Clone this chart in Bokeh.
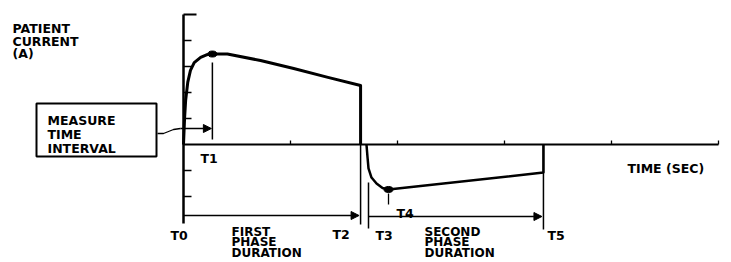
from bokeh.plotting import figure
from bokeh.models import Arrow, NormalHead, Range1d
from bokeh.core.properties import value
from bokeh.embed import file_html
from bokeh.resources import INLINE

# ---------------- data (time in tick units, current in tick units) ----------------
phase1_t = [0, 0.01, 0.02, 0.04, 0.065, 0.10, 0.16, 0.215, 0.27, 0.41, 0.72, 1.03, 1.35, 1.655, 1.655]
phase1_i = [0, 1.0, 1.7, 2.4, 2.85, 3.15, 3.35, 3.45, 3.48, 3.48, 3.23, 2.92, 2.58, 2.27, 0]
phase2_t = [1.71, 1.72, 1.729, 1.757, 1.804, 1.86, 1.916, 3.364, 3.364]
phase2_i = [0, -0.5, -0.92, -1.27, -1.5, -1.67, -1.73, -1.08, 0]
event_names = ["T0", "T1", "T2", "T3", "T4", "T5"]
event_t = [0, 0.27, 1.655, 1.729, 1.916, 3.364]
x_ticks = [1, 2, 3, 4, 5]
y_ticks = [4, 3, 2, 1, -1, -2]
y_top = 5
y_label = ["PATIENT", "CURRENT", "(A)"]
x_label = "TIME (SEC)"
box_label = ["MEASURE", "TIME", "INTERVAL"]
first_label = ["FIRST", "PHASE", "DURATION"]
second_label = ["SECOND", "PHASE", "DURATION"]

# ---------------- layout ----------------
W, H = 731, 262
X0, Y0, SX, SY = 183, 144, 107.0, 26.0   # canvas px of origin, px per unit


def px(xi):   # window x -> data x
    return (xi - X0) / SX


def py(yi):   # window y -> data y
    return (Y0 - yi) / SY


p = figure(width=W, height=H, x_range=Range1d(-X0 / SX, (W - X0) / SX),
           y_range=Range1d(-(H - Y0) / SY, Y0 / SY),
           toolbar_location=None, output_backend="svg", min_border=0,
           x_axis_location=None, y_axis_location=None)
p.grid.visible = False
p.outline_line_color = None
p.background_fill_color = "white"

K = "black"
FONT = value("DejaVu Sans")

# axes
p.line([0, 0], [y_top, py(223)], line_color=K, line_width=2.5)
p.line([0, x_ticks[-1]], [0, 0], line_color=K, line_width=2)
p.segment(x0=[0] * len(y_ticks), y0=y_ticks, x1=[8 / SX] * len(y_ticks), y1=y_ticks,
          line_color=K, line_width=1.3)
p.segment(x0=[0], y0=[y_top], x1=[13 / SX], y1=[y_top], line_color=K, line_width=2)
p.segment(x0=x_ticks, y0=[0] * len(x_ticks), x1=x_ticks, y1=[4 / SY] * len(x_ticks),
          line_color=K, line_width=1.3)

# waveform
p.line(phase1_t, phase1_i, line_color=K, line_width=3, line_join="round")
p.line(phase2_t, phase2_i, line_color=K, line_width=2.5, line_join="round")
p.ellipse(x=[event_t[1]], y=[3.48], width=9, height=6, width_units="screen",
          height_units="screen", fill_color=K, line_color=K)
p.ellipse(x=[event_t[4]], y=[-1.73], width=9, height=6, width_units="screen",
          height_units="screen", fill_color=K, line_color=K)

# event marker lines
p.segment(x0=[event_t[1]], y0=[py(62)], x1=[event_t[1]], y1=[py(139)], line_color=K, line_width=1.5)
p.segment(x0=[event_t[2]], y0=[0], x1=[event_t[2]], y1=[py(224)], line_color=K, line_width=1.5)
p.segment(x0=[event_t[3]], y0=[py(182)], x1=[event_t[3]], y1=[py(228)], line_color=K, line_width=1.5)
p.segment(x0=[event_t[4]], y0=[py(193)], x1=[event_t[4]], y1=[py(204)], line_color=K, line_width=1.3)
p.segment(x0=[event_t[5]], y0=[0], x1=[event_t[5]], y1=[py(229)], line_color=K, line_width=1.5)

# duration arrows
head = dict(size=8, fill_color=K, line_color=K, line_width=1)
p.add_layout(Arrow(end=NormalHead(**head), x_start=event_t[0], y_start=py(215),
                   x_end=event_t[2] - 1.5 / SX, y_end=py(215), line_color=K, line_width=1.5))
p.add_layout(Arrow(end=NormalHead(**head), x_start=event_t[3], y_start=py(216),
                   x_end=event_t[5] - 1.5 / SX, y_end=py(216), line_color=K, line_width=1.5))

# measure box and arrow
p.quad(left=[px(36)], right=[px(156)], top=[py(103)], bottom=[py(156)],
       fill_color=None, line_color=K, line_width=2)
p.line([px(157), px(163), px(168), px(173), px(180)],
       [py(133), py(133), py(131), py(129), py(128)], line_color=K, line_width=1.3)
p.add_layout(Arrow(end=NormalHead(**head), x_start=px(180), y_start=py(128),
                   x_end=event_t[1] - 1 / SX, y_end=py(128), line_color=K, line_width=1.5))

# texts (left x, baseline y in window px)
tx, ty, tt = [], [], []


def put(xi, yi, s):
    tx.append(px(xi)); ty.append(py(yi)); tt.append(s)


for k, s in enumerate(y_label):
    put(12, 28 + 12.5 * k, s)
for k, s in enumerate(box_label):
    put(47, 120 + 14 * k, s)
put(627, 168, x_label)
for name, xi, yi in zip(event_names, [170, 200, 332, 375, 396, 547], [235, 158, 234, 235, 213, 235]):
    put(xi, yi, name)

p.text(x=tx, y=ty, text=tt, text_font=FONT, text_font_style="bold", text_font_size="12.5px",
       text_baseline="alphabetic", text_align="left", text_color=K)

bx, by, bt = [], [], []
for k, s in enumerate(first_label):
    bx.append(px(231)); by.append(py(231 + 10.5 * k)); bt.append(s)
for k, s in enumerate(second_label):
    bx.append(px(424)); by.append(py(231 + 10.5 * k)); bt.append(s)
p.text(x=bx, y=by, text=bt, text_font=FONT, text_font_style="bold", text_font_size="12px",
       text_baseline="alphabetic", text_align="left", text_color=K)

open("out.html", "w").write(file_html(p, INLINE))
